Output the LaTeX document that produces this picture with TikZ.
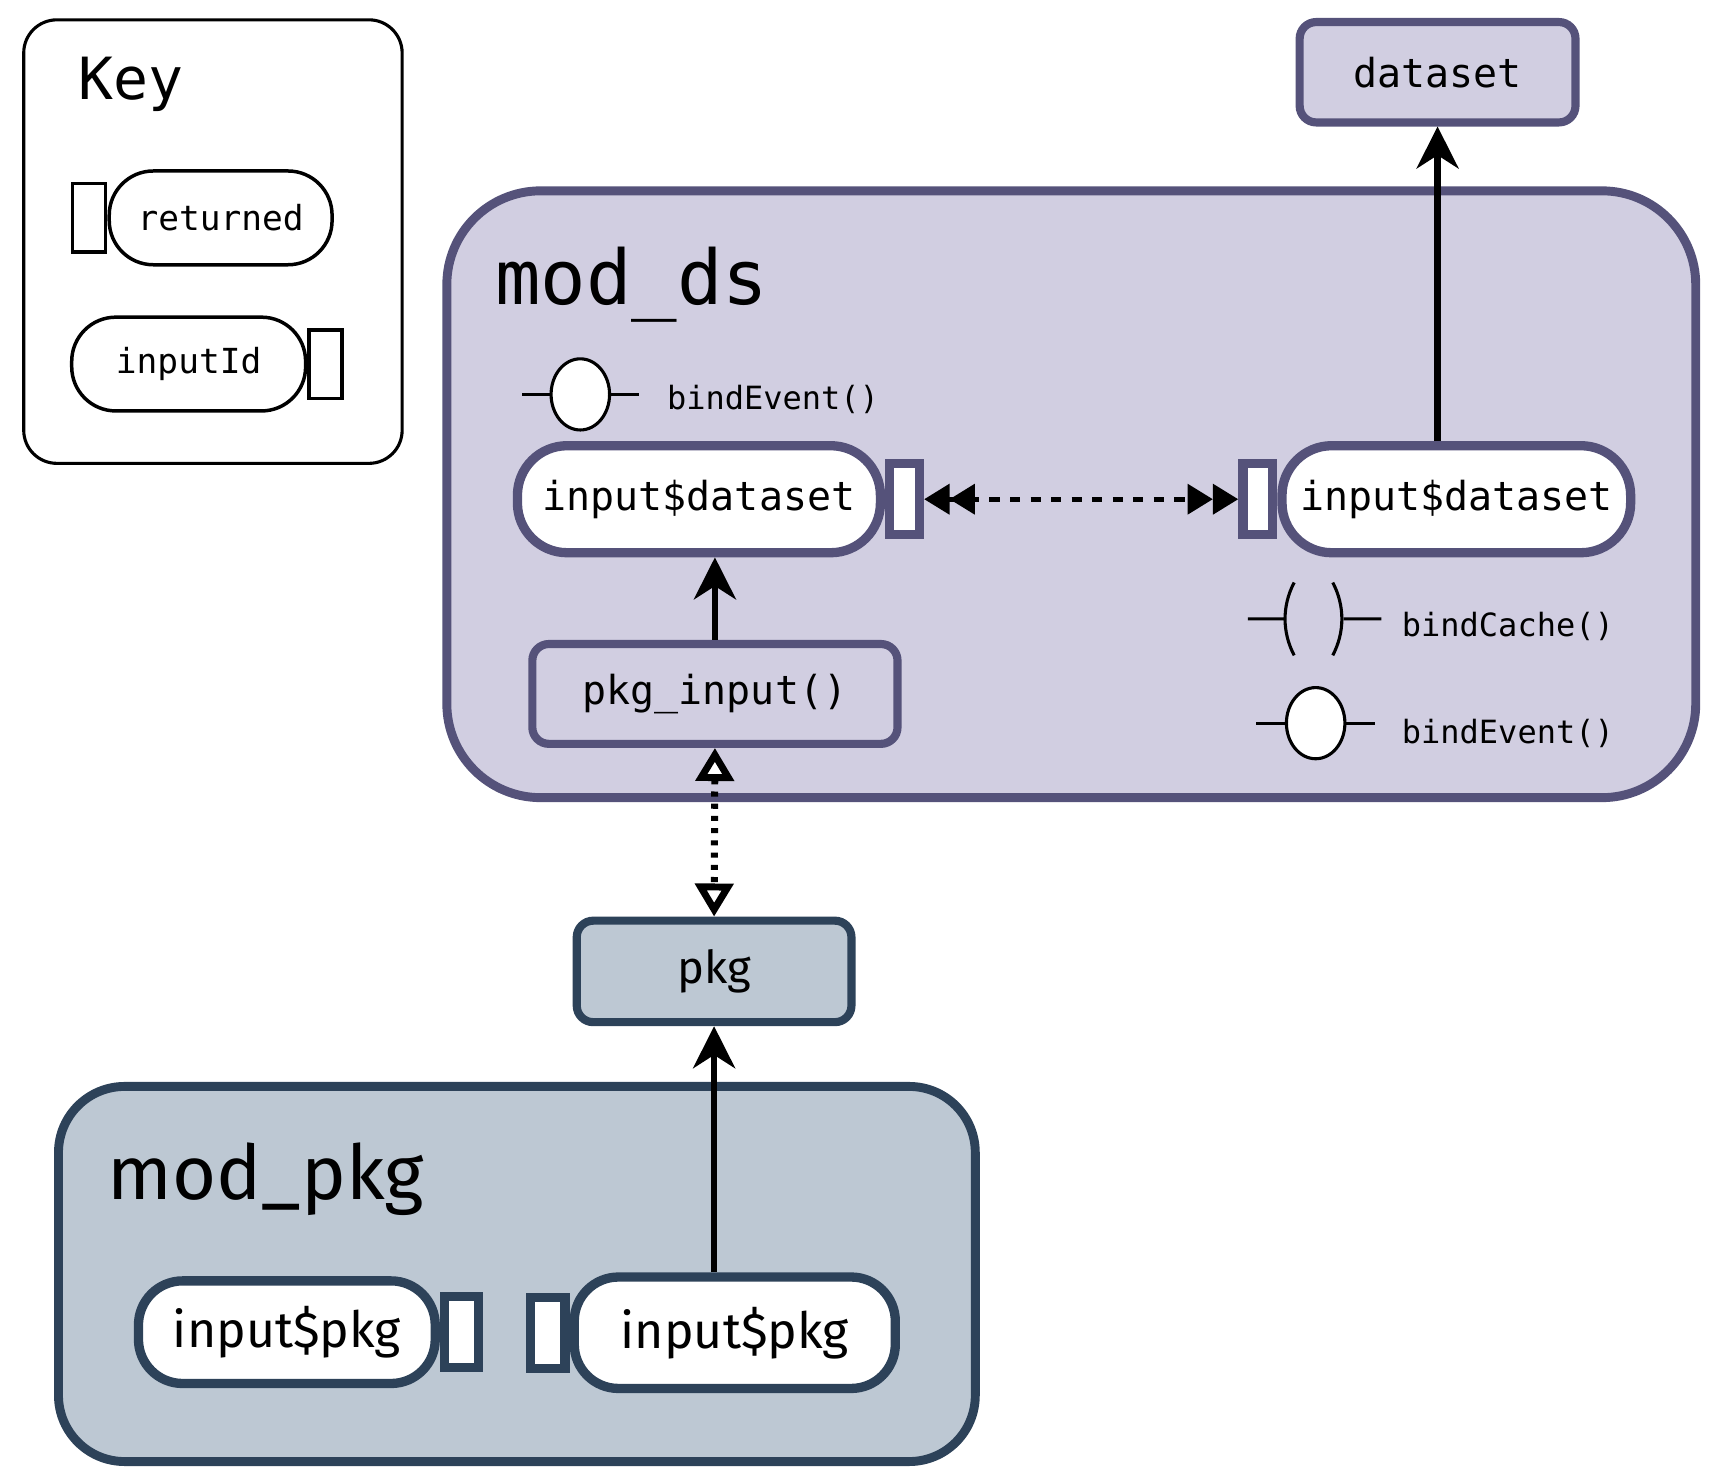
\documentclass[tikz,border=0pt]{standalone}
\usepackage{fontspec}
\setmonofont{DejaVu Sans Mono}
\setsansfont{Fira Sans}
\usepackage{tikz}
\usetikzlibrary{positioning,arrows.meta,shapes.geometric}

\definecolor{dsline}{HTML}{55527A}
\definecolor{dsfill}{HTML}{D1CEE1}
\definecolor{pkgline}{HTML}{2D4259}
\definecolor{pkgfill}{HTML}{BDC8D3}

\newcommand{\fkeyhead}{\ttfamily\fontsize{15}{18}\selectfont}
\newcommand{\fkeyitem}{\ttfamily\fontsize{8.9}{11}\selectfont}
\newcommand{\fmodds}{\ttfamily\fontsize{19.5}{23}\selectfont}
\newcommand{\fds}{\ttfamily\fontsize{10.3}{12}\selectfont}
\newcommand{\fbind}{\ttfamily\fontsize{8.25}{10}\selectfont}
\newcommand{\fmodpkg}{\sffamily\fontsize{19.5}{23}\selectfont}
\newcommand{\fpkgid}{\sffamily\fontsize{12.9}{15}\selectfont}
\newcommand{\fpkg}{\sffamily\fontsize{11.7}{14}\selectfont}

\tikzset{
    module/.style={draw=#1, line width=2.3pt, rounded corners=0.85cm, inner sep=0pt},
    pill/.style={draw=#1, fill=white, line width=2.4pt, rounded corners=0.45cm, inner sep=0pt},
    port/.style={draw=#1, fill=white, line width=2.4pt, inner sep=0pt, minimum width=0.27cm, minimum height=0.645cm},
    obj/.style={draw=#1, line width=2.1pt, rounded corners=0.15cm, inner sep=0pt},
    keypill/.style={draw, fill=white, line width=0.9pt, rounded corners=0.4cm, inner sep=0pt, minimum height=0.85cm, font=\fkeyitem},
    keyport/.style={draw, fill=white, line width=0.9pt, inner sep=0pt, minimum width=0.3cm, minimum height=0.62cm},
    bind/.style={ellipse, draw, fill=white, line width=0.8pt, inner sep=0pt, minimum width=0.53cm, minimum height=0.645cm},
    bindline/.style={line width=0.8pt},
    bindtext/.style={anchor=west, inner sep=0pt, font=\fbind},
    arr/.style={line width=1.7pt, -{Stealth[length=0.38cm,width=0.38cm,inset=0.12cm]}},
    syncarr/.style={line width=1.2pt, dash pattern=on 2.6pt off 2.7pt,
        {Triangle[length=0.23cm,width=0.27cm]Triangle[length=0.23cm,width=0.27cm]}-{Triangle[length=0.23cm,width=0.27cm]Triangle[length=0.23cm,width=0.27cm]}},
    passarr/.style={line width=1.8pt, dash pattern=on 1.3pt off 1.85pt,
        {Triangle[length=0.3cm,width=0.34cm,fill=white]}-{Triangle[length=0.3cm,width=0.34cm,fill=white]}}
}

\begin{document}
\begin{tikzpicture}[x=1cm,y=1cm]
    \useasboundingbox (0,0) rectangle (15.59,13.4);

    \node[draw, line width=0.8pt, rounded corners=0.3cm, minimum width=3.43cm, minimum height=4.02cm] (key) at (1.93,11.21) {};
    \node[anchor=base west, inner sep=0pt, font=\fkeyhead] (keytitle) at (0.70,12.50) {Key};
    \node[keypill, minimum width=2.02cm] (retn) at (2.00,11.425) {returned};
    \node[keyport, left=0pt of retn] (retnport) {};
    \node[keypill, minimum width=2.12cm] (inid) at (1.71,10.10) {inputId};
    \node[keyport, right=0pt of inid] (inidport) {};

    \node[module=dsline, fill=dsfill, minimum width=11.32cm, minimum height=5.50cm] (modds) at (9.71,8.92) {};
    \node[anchor=base west, inner sep=0pt, font=\fmodds] (moddslabel) at (4.48,10.64) {mod\_ds};

    \node[bind] (evA) at (5.26,9.825) {};
    \draw[bindline] (evA.west) -- +(-0.25,0) (evA.east) -- +(0.25,0);
    \node[bindtext] (evAlabel) at (6.04,9.78) {bindEvent()};

    \node[pill=dsline, minimum width=3.29cm, minimum height=0.97cm, font=\fds] (dsL) at (6.335,8.875) {input\$dataset};
    \node[port=dsline, right=0pt of dsL] (dsLport) {};
    \node[pill=dsline, minimum width=3.16cm, minimum height=0.97cm, font=\fds] (dsR) at (13.20,8.875) {input\$dataset};
    \node[port=dsline, left=0pt of dsR] (dsRport) {};

    \node[obj=dsline, fill=dsfill, minimum width=2.50cm, minimum height=0.91cm, font=\fds] (dataset) at (13.03,12.745) {dataset};
    \node[obj=dsline, fill=dsfill, minimum width=3.31cm, minimum height=0.905cm, font=\fds] (pkgin) at (6.48,7.11) {pkg\_input()};

    \coordinate (cache) at (11.91,7.79);
    \draw[bindline, shift={(cache)}] (-0.60,0) -- (-0.26,0)
        (-0.18,0.33) .. controls (-0.29,0.12) and (-0.29,-0.12) .. (-0.18,-0.33)
        (0.17,0.33) .. controls (0.28,0.12) and (0.28,-0.12) .. (0.17,-0.33)
        (0.27,0) -- (0.61,0);
    \node[bindtext] (cachelabel) at (12.70,7.72) {bindCache()};

    \node[bind] (evB) at (11.925,6.845) {};
    \draw[bindline] (evB.west) -- +(-0.26,0) (evB.east) -- +(0.26,0);
    \node[bindtext] (evBlabel) at (12.70,6.75) {bindEvent()};

    \node[obj=pkgline, fill=pkgfill, minimum width=2.49cm, minimum height=0.92cm, font=\fpkg] (pkg) at (6.4725,4.595) {pkg};

    \node[module=pkgline, rounded corners=0.6cm, fill=pkgfill, minimum width=8.31cm, minimum height=3.40cm] (modpkg) at (4.685,1.8525) {};
    \node[anchor=base west, inner sep=0pt, font=\fmodpkg] (modpkglabel) at (0.97,2.53) {mod\_pkg};
    \node[pill=pkgline, rounded corners=0.4cm, minimum width=2.69cm, minimum height=0.93cm, font=\fpkgid] (pkgL) at (2.60,1.325) {input\$pkg};
    \node[port=pkgline, minimum width=0.31cm, right=0pt of pkgL] (pkgLport) {};
    \node[pill=pkgline, rounded corners=0.4cm, minimum width=2.91cm, minimum height=1.01cm, font=\fpkgid] (pkgR) at (6.66,1.32) {input\$pkg};
    \node[port=pkgline, minimum width=0.31cm, left=0pt of pkgR] (pkgRport) {};

    \draw[arr] (dsR.north -| dataset.south) -- (dataset.south);
    \draw[arr] (pkgin.north) -- (pkgin.north |- dsL.south);
    \draw[syncarr] (dsLport.east) -- (dsRport.west);
    \draw[passarr] (pkgin.south) -- (pkg.north);
    \draw[arr] (pkgR.north -| pkg.south) -- (pkg.south);
\end{tikzpicture}
\end{document}
